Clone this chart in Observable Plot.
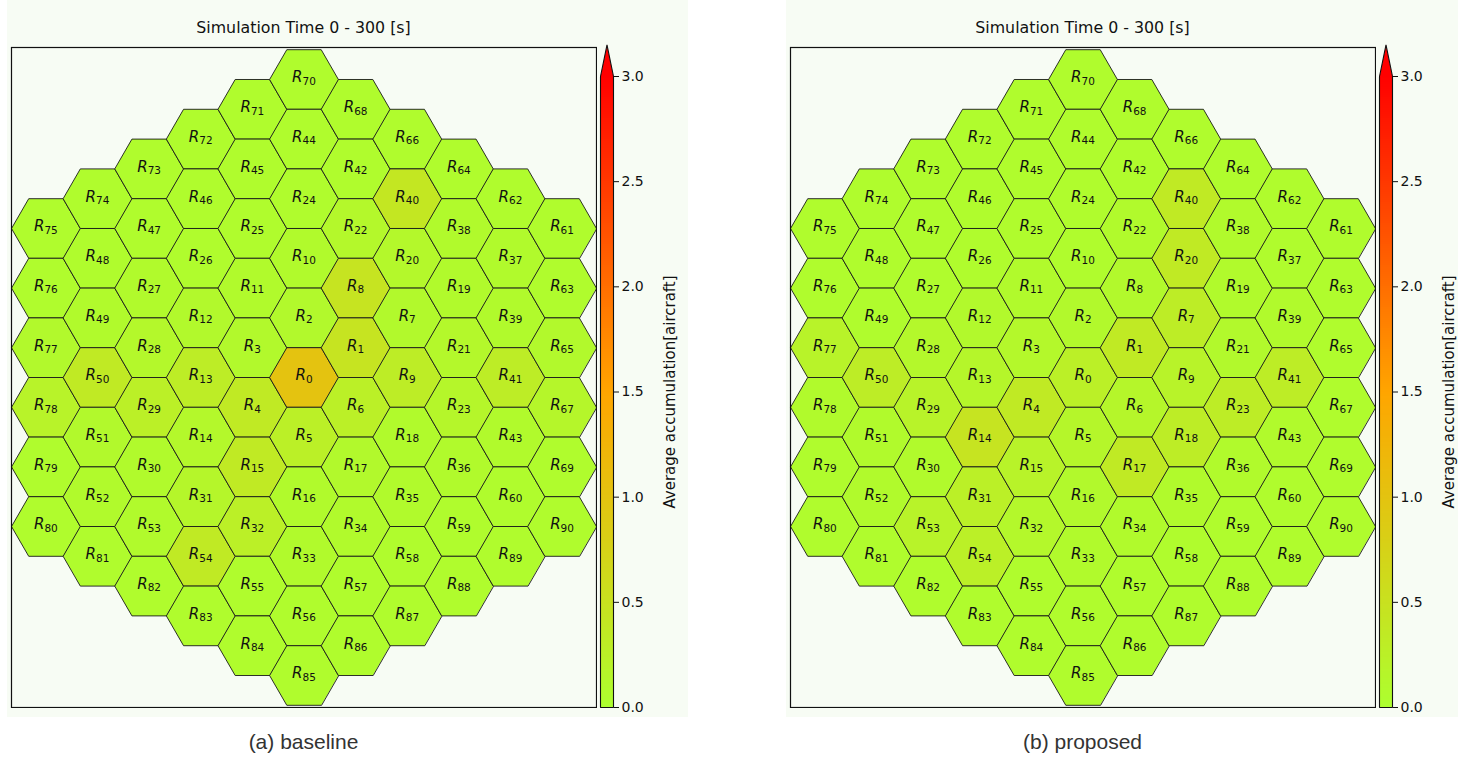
<!DOCTYPE html>
<html><head><meta charset="utf-8">
<script src="https://cdn.jsdelivr.net/npm/d3@7"></script>
<script src="https://cdn.jsdelivr.net/npm/@observablehq/plot@0.6"></script>
<style>
body{margin:0;background:#fff;}
#root{position:relative;width:1458px;height:758px;overflow:hidden;font-family:"DejaVu Sans";}
.bg{position:absolute;background:#f7fcf4;}
.abs{position:absolute;}
.title{position:absolute;font:15.8px "DejaVu Sans";color:#111;text-align:center;width:585px;}
.cap{position:absolute;font:21px "Liberation Sans",Arial,sans-serif;color:#333;text-align:center;width:585px;}
</style></head><body><div id="root"></div>
<script>
// Hex-grid columns (left to right), region ids listed top to bottom
const columns = [
  [75,76,77,78,79,80],
  [74,48,49,50,51,52,81],
  [73,47,27,28,29,30,53,82],
  [72,46,26,12,13,14,31,54,83],
  [71,45,25,11,3,4,15,32,55,84],
  [70,44,24,10,2,0,5,16,33,56,85],
  [68,42,22,8,1,6,17,34,57,86],
  [66,40,20,7,9,18,35,58,87],
  [64,38,19,21,23,36,59,88],
  [62,37,39,41,43,60,89],
  [61,63,65,67,69,90]
];
// Average accumulation per region R0..R90
const baseline = [
  1.0, 0.45, 0.1, 0.1, 0.35, 0.25, 0.25, 0.1, 0.45, 0.3,
  0.08, 0.08, 0.1, 0.3, 0.12, 0.35, 0.08, 0.1, 0.08, 0.08,
  0.12, 0.12, 0.12, 0.15, 0.05, 0.05, 0.05, 0.08, 0.12, 0.25,
  0.08, 0.15, 0.25, 0.08, 0.08, 0.08, 0.08, 0.08, 0.08, 0.08,
  0.4, 0.3, 0.05, 0.08, 0.05, 0.05, 0.05, 0.05, 0.05, 0.08,
  0.35, 0.1, 0.08, 0.08, 0.35, 0.05, 0.05, 0.05, 0.05, 0.05,
  0.05, 0.05, 0.05, 0.05, 0.05, 0.1, 0.05, 0.15, 0.05, 0.05,
  0.05, 0.05, 0.05, 0.05, 0.05, 0.05, 0.05, 0.1, 0.2, 0.05,
  0.05, 0.05, 0.05, 0.05, 0.05, 0.05, 0.05, 0.05, 0.05, 0.05, 0.05
];
const proposed = [
  0.25, 0.35, 0.1, 0.12, 0.35, 0.15, 0.15, 0.3, 0.1, 0.2,
  0.05, 0.08, 0.1, 0.15, 0.45, 0.2, 0.1, 0.35, 0.3, 0.08,
  0.35, 0.1, 0.08, 0.3, 0.05, 0.05, 0.05, 0.05, 0.12, 0.2,
  0.08, 0.25, 0.12, 0.08, 0.08, 0.08, 0.08, 0.05, 0.08, 0.08,
  0.35, 0.3, 0.05, 0.08, 0.05, 0.05, 0.05, 0.05, 0.05, 0.05,
  0.3, 0.08, 0.08, 0.2, 0.25, 0.05, 0.05, 0.05, 0.05, 0.05,
  0.05, 0.05, 0.05, 0.05, 0.05, 0.05, 0.05, 0.05, 0.05, 0.05,
  0.05, 0.05, 0.05, 0.05, 0.05, 0.05, 0.05, 0.2, 0.08, 0.05,
  0.05, 0.05, 0.05, 0.05, 0.05, 0.05, 0.05, 0.05, 0.05, 0.05, 0.05
];
const panelSeries = [baseline, proposed];
const panelCaptions = ["(a) baseline", "(b) proposed"];
const panelTitle = "Simulation Time 0 - 300 [s]";
const cbTicks = [0, 0.5, 1.0, 1.5, 2.0, 2.5, 3.0];
const cbLabel = "Average accumulation[aircraft]";
const cmapStops = [0, 1.5, 3];
const cmapColors = ["greenyellow", "orange", "red"];
const extendFrac = 0.05;

const SQ3 = Math.sqrt(3);
const colorOpts = {type: "linear", domain: cmapStops, range: cmapColors, interpolate: "rgb", clamp: true};
const root = document.getElementById("root");

function add(cls, css, text) {
  const d = document.createElement("div");
  d.className = cls;
  Object.assign(d.style, css);
  if (text != null) d.textContent = text;
  root.appendChild(d);
  return d;
}

panelSeries.forEach((vals, p) => {
  const off = p * 779;
  add("bg", {left: (7 + off) + "px", top: "0px", width: "681px", height: "717px"});

  const cells = [];
  columns.forEach((col, ci) => {
    const c = ci - (columns.length - 1) / 2;
    const n = col.length;
    col.forEach((id, k) => {
      cells.push({id, v: vals[id], cx: 1.5 * c, cy: ((n - 1) / 2 - k) * SQ3});
    });
  });
  const verts = [];
  for (const cell of cells) {
    for (let j = 0; j < 6; j++) {
      const a = j * Math.PI / 3;
      verts.push({id: cell.id, v: cell.v, x: cell.cx + Math.cos(a), y: cell.cy + Math.sin(a)});
    }
  }
  const hexPlot = Plot.plot({
    width: 587, height: 662, margin: 1,
    x: {domain: [-8.5, 8.5], axis: null},
    y: {domain: [-9.59, 9.59], axis: null},
    color: colorOpts,
    style: {background: "transparent", fontFamily: "DejaVu Sans"},
    marks: [
      Plot.line(verts, {x: "x", y: "y", z: "id", fill: "v", stroke: "#1a1a1a", strokeWidth: 0.9, curve: "linear-closed", strokeLinejoin: "miter"}),
      Plot.text(cells, {x: "cx", y: "cy", text: d => "R" + d.id, fontSize: 15, fill: "#111", dy: -2}),
      Plot.frame({stroke: "#111", strokeWidth: 1.2})
    ]
  });
  hexPlot.querySelectorAll('g[aria-label="text"] text').forEach(t => {
    const s = t.textContent;
    t.textContent = "";
    const ns = "http://www.w3.org/2000/svg";
    const a = document.createElementNS(ns, "tspan");
    a.setAttribute("font-style", "italic");
    a.textContent = s[0];
    const b = document.createElementNS(ns, "tspan");
    b.setAttribute("font-size", "10.5");
    b.setAttribute("dy", "2.5");
    b.textContent = s.slice(1);
    t.appendChild(a); t.appendChild(b);
  });
  const hw = add("abs", {left: (10 + off) + "px", top: "46px", width: "587px", height: "662px"});
  hw.appendChild(hexPlot);

  const [lo, hi] = [cbTicks[0], cbTicks[cbTicks.length - 1]];
  const tip = hi + extendFrac * (hi - lo);
  const strips = d3.range(0, 300).map(i => ({y1: lo + (hi - lo) * i / 300, y2: lo + (hi - lo) * (i + 1) / 300}));
  const cbPlot = Plot.plot({
    width: 79, height: 680,
    marginLeft: 0, marginRight: 66, marginTop: 36, marginBottom: 13,
    x: {domain: [0, 1], axis: null},
    y: {domain: [lo, hi], axis: "right", ticks: cbTicks, tickFormat: d3.format(".1f"), tickSize: 5, tickPadding: 3, label: null},
    color: colorOpts,
    style: {background: "transparent", fontFamily: "DejaVu Sans", fontSize: "14px", color: "#111", overflow: "visible"},
    marks: [
      Plot.rect(strips, {x1: () => 0, x2: () => 1, y1: "y1", y2: "y2", fill: d => (d.y1 + d.y2) / 2, shapeRendering: "crispEdges"}),
      Plot.line([{x: 0, y: hi}, {x: 0.5, y: tip}, {x: 1, y: hi}], {x: "x", y: "y", fill: cmapColors[cmapColors.length - 1], stroke: "none", curve: "linear-closed"}),
      Plot.line([{x: 0, y: lo}, {x: 0, y: hi}, {x: 0.5, y: tip}, {x: 1, y: hi}, {x: 1, y: lo}], {x: "x", y: "y", stroke: "#111", strokeWidth: 1.1, curve: "linear-closed", strokeLinejoin: "miter"}),
      Plot.text([cbLabel], {frameAnchor: "middle", rotate: -90, dx: 63, fontSize: 15, fill: "#111"})
    ]
  });
  const cw = add("abs", {left: (600 + off) + "px", top: "40px", width: "79px", height: "680px"});
  cw.appendChild(cbPlot);

  add("title", {left: (11 + off) + "px", top: "18px"}, panelTitle);
  add("cap", {left: (11 + off) + "px", top: "730px"}, panelCaptions[p]);
});
</script>
</body></html>
